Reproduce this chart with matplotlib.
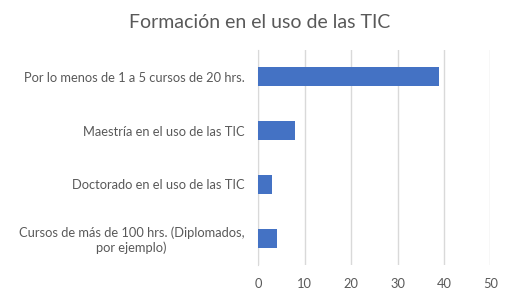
import matplotlib.pyplot as plt

categories = [
    "Por lo menos de 1 a 5 cursos de 20 hrs.",
    "Maestría en el uso de las TIC",
    "Doctorado en el uso de las TIC",
    "Cursos de más de 100 hrs. (Diplomados,\npor ejemplo)",
]
values = [39, 8, 3, 4]
x_ticks = [0, 10, 20, 30, 40, 50]

text_color = "#595959"
plt.rcParams["font.family"] = ["Lato", "DejaVu Sans"]

fig = plt.figure(figsize=(5.05, 2.94), dpi=100)
ax = fig.add_axes([0.5115, 0.0986, 0.4595, 0.7314])

pos = list(range(len(categories)))
ax.barh(pos, values, height=0.355, color="#4472C4", zorder=3)
ax.set_ylim(len(categories) - 0.5, -0.5)
ax.set_xlim(0, 50)
ax.set_xticks(x_ticks)
ax.set_yticks(pos)
ax.set_yticklabels(categories, ha="right", multialignment="center")

ax.grid(axis="x", color="#D9D9D9", linewidth=1, zorder=0)
for s in ["top", "right", "bottom"]:
    ax.spines[s].set_visible(False)
ax.spines["left"].set_color("#D9D9D9")
ax.tick_params(axis="both", length=0, labelsize=9.3, colors=text_color)
ax.tick_params(axis="y", pad=10)
ax.tick_params(axis="x", pad=9)

fig.text(0.515, 0.925, "Formación en el uso de las TIC", ha="center", va="center",
         fontsize=14, color=text_color)

fig.savefig("out.png", dpi=100, facecolor="white")
